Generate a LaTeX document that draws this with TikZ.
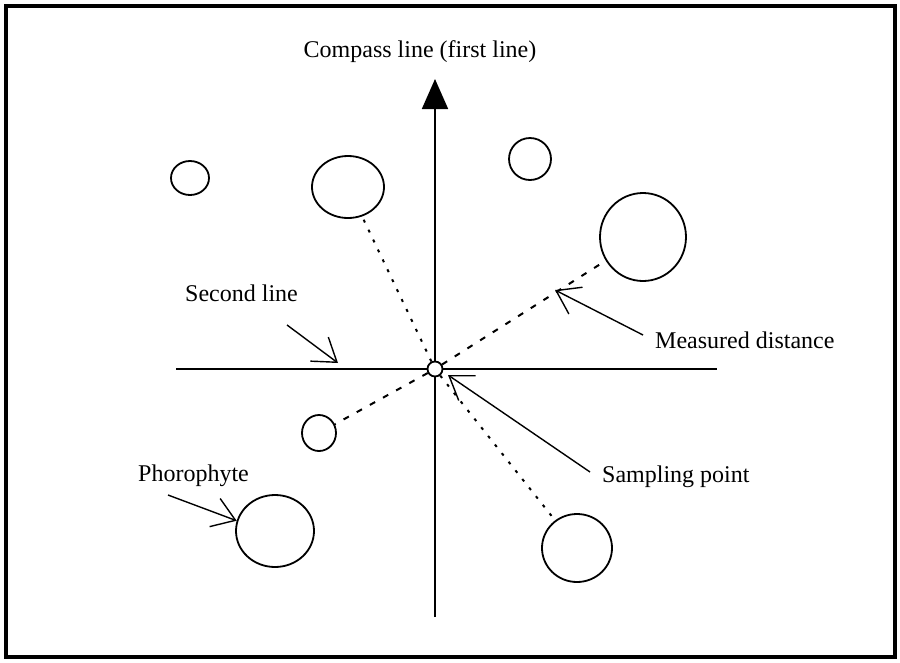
\documentclass[tikz,border=0pt]{standalone}
\usepackage{fontspec}
\setmainfont{Liberation Serif}
\usetikzlibrary{arrows.meta,shapes.geometric}

\begin{document}
\begin{tikzpicture}[x=1pt, y=-1pt,
  every node/.style={font=\fontsize{24}{28}\selectfont, inner sep=0pt},
  tree/.style={draw, ellipse, line width=1.8pt},
  axis/.style={line width=1.8pt},
  pointer/.style={line width=1.4pt, -{Straight Barb[length=22pt,width=30pt]}},
  spotted/.style={line width=2pt, dash pattern=on 3pt off 8pt},
  spaced/.style={line width=2pt, dash pattern=on 6pt off 9pt}]
  \useasboundingbox (0,0) rectangle (900,662);
  \draw[line width=4pt] (6,6) rectangle (895,657);

  % the two lines
  \coordinate (n-end) at (435,79);
  \coordinate (s-end) at (435,617);
  \coordinate (w-end) at (176,369);
  \coordinate (e-end) at (717,369);
  \draw[axis, -{Triangle[length=30pt,width=26pt]}] (s-end) -- (n-end);
  \draw[axis] (w-end) -- (e-end);
  \node[draw, circle, fill=white, line width=1.8pt, minimum size=15pt] (sp) at (435,369) {};

  % phorophytes
  \node[tree, minimum width=38pt, minimum height=34pt] (c1) at (190,178) {};
  \node[tree, minimum width=72pt, minimum height=62pt] (c2) at (348,187) {};
  \node[tree, minimum width=42pt, minimum height=42pt] (c3) at (530,159) {};
  \node[tree, minimum width=86pt, minimum height=88pt] (c4) at (643,237) {};
  \node[tree, minimum width=34pt, minimum height=36pt] (c5) at (319,433) {};
  \node[tree, minimum width=78pt, minimum height=72pt] (c6) at (275,531) {};
  \node[tree, minimum width=70pt, minimum height=68pt] (c7) at (577,548) {};

  % distances
  \draw[spotted] (sp) -- (c2);
  \draw[spaced] (sp) -- (c4);
  \draw[spaced] (sp) -- (c5);
  \draw[spotted] (sp) -- (c7);

  % labels
  \node[anchor=base] (compass) at (420,57) {Compass line (first line)};
  \node[anchor=base west] (second) at (185,301) {Second line};
  \node[anchor=base west] (measured) at (655,348) {Measured distance};
  \node[anchor=base west] (sampling) at (602,482) {Sampling point};
  \node[anchor=base west] (phoro) at (138,481) {Phorophyte};

  \coordinate (second-tip) at (338,363);
  \coordinate (measured-tip) at (555,290);
  \coordinate (sampling-tip) at (448,375);
  \draw[pointer] ([shift={(-11,24)}]second.base east) -- (second-tip);
  \draw[pointer] ([shift={(-12,-13)}]measured.base west) -- (measured-tip);
  \draw[pointer] ([shift={(-12,-10)}]sampling.base west) -- (sampling-tip);
  \draw[pointer] ([shift={(30,14)}]phoro.base west) -- (c6.165);
\end{tikzpicture}
\end{document}
